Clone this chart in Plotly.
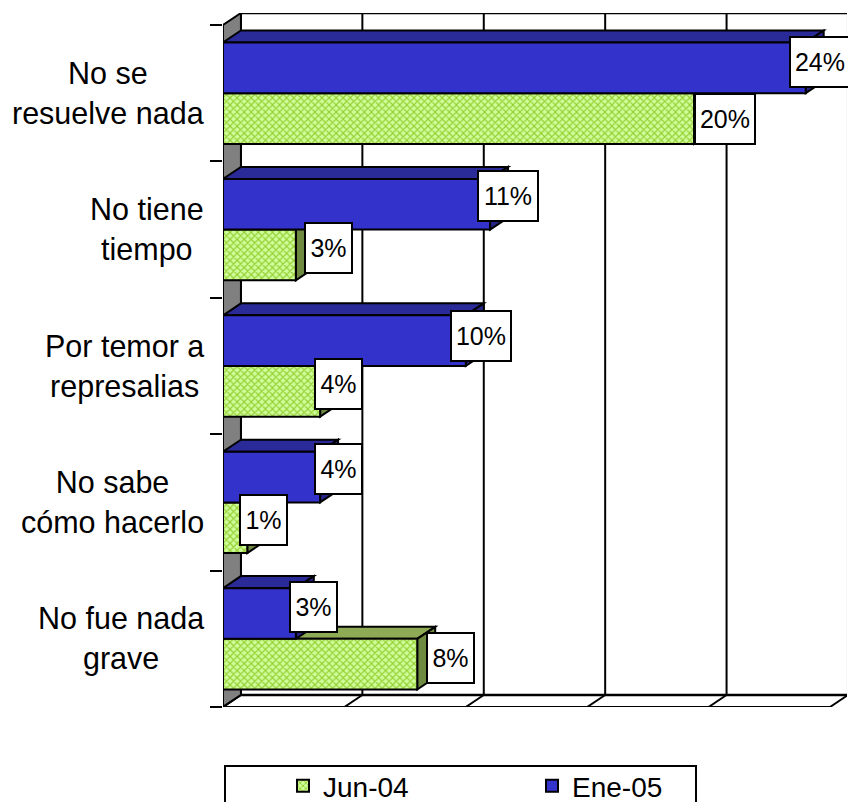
import plotly.graph_objects as go

# Data (bottom category first)
categories = ["No fue nada<br>grave", "No sabe<br>cómo hacerlo", "Por temor a<br>represalias",
              "No tiene<br>tiempo", "No se<br>resuelve nada"]
jun_04 = [8, 1, 4, 3, 19.4]
ene_05 = [3, 4, 10, 11, 24]
jun_labels = ["8%", "1%", "4%", "3%", "20%"]
ene_labels = ["3%", "4%", "10%", "11%", "24%"]
x_ticks = [0, 5, 10, 15, 20, 25]

# Styling of the pseudo-3D look
X_MAX = 25.7
DX, DY = 0.74, 0.088
BARGAP = 0.257
H = (1 - BARGAP) / 2
FONT = "Liberation Sans, Arial, sans-serif"
BLUE, BLUE_TOP, BLUE_SIDE = "#3333CC", "#2A2A99", "#26268A"
GREEN_BG, GREEN_FG, GREEN_TOP, GREEN_SIDE = "#CCFF99", "#99CC33", "#8FAA55", "#6E8A40"
W, HT = 848, 802
ML, MR, MT, MB = 223, 1, 13, 95
PW, PH = W - ML - MR, HT - MT - MB
# label nudges in px (dx, dy up), bottom category first
ene_nudge = [(18, 6), (18, 8), (15, 5), (18, 8), (14, 6)]
jun_nudge = [(33, 6), (16, 8), (18, 7), (33, 7), (31, 0)]

ys = list(range(len(categories)))
y_lo, y_hi = -0.5, len(categories) - 0.5


def poly(points, fill, lw=2, line="black"):
    path = "M" + "L".join(f"{x},{y}" for x, y in points) + "Z"
    return dict(type="path", path=path, xref="x", yref="y", layer="below",
                fillcolor=fill, line=dict(color=line, width=lw))


def seg(x0, y0, x1, y1, lw=2, color="black"):
    return dict(type="line", x0=x0, y0=y0, x1=x1, y1=y1, xref="x", yref="y",
                layer="below", line=dict(color=color, width=lw))


shapes = []
# legend frame (bottom edge runs off the page, as in the source)
shapes.append(dict(type="rect", xref="paper", yref="paper", layer="below",
                   x0=(225 - ML) / PW, x1=(696 - ML) / PW,
                   y0=(HT - MB - 806) / PH, y1=(HT - MB - 766) / PH,
                   fillcolor="white", line=dict(color="black", width=2)))
# floor, left wall, back wall
shapes.append(poly([(0, y_lo), (0, y_hi), (DX, y_hi + DY), (DX, y_lo + DY)], "#808080"))
shapes.append(seg(DX, y_hi + DY, 25 + DX, y_hi + DY, 2.5))
shapes.append(seg(DX, y_lo + DY, 25 + DX, y_lo + DY, 2.5))
shapes.append(seg(0, y_lo, 25, y_lo, 2))
for t in x_ticks:
    shapes.append(seg(t + DX, y_lo + DY, t + DX, y_hi + DY, 2))
    shapes.append(seg(t, y_lo, t + DX, y_lo + DY, 2))

# depth faces: green first, then blue
for y, v in zip(ys, jun_04):
    shapes.append(poly([(0, y), (DX, y + DY), (v + DX, y + DY), (v, y)], GREEN_TOP))
    shapes.append(poly([(v, y), (v + DX, y + DY), (v + DX, y - H + DY), (v, y - H)], GREEN_SIDE))
for y, v in zip(ys, ene_05):
    shapes.append(poly([(0, y + H), (DX, y + H + DY), (v + DX, y + H + DY), (v, y + H)], BLUE_TOP))
    shapes.append(poly([(v, y + H), (v + DX, y + H + DY), (v + DX, y + DY), (v, y)], BLUE_SIDE))

fig = go.Figure()
fig.add_bar(name="Jun-04", y=ys, x=jun_04, orientation="h",
            marker=dict(color=GREEN_BG, line=dict(color="black", width=2),
                        pattern=dict(shape="x", bgcolor=GREEN_BG, fgcolor=GREEN_FG,
                                     size=5, solidity=0.4, fillmode="replace")))
fig.add_bar(name="Ene-05", y=ys, x=ene_05, orientation="h",
            marker=dict(color=BLUE, line=dict(color="black", width=2)))

annotations = []
for y, label in zip(ys, categories):
    annotations.append(dict(x=0, y=y, xref="x", yref="y", text=label, showarrow=False,
                            xanchor="right", yanchor="middle", xshift=-17, align="center",
                            font=dict(family=FONT, size=30.5, color="black")))


def add_labels(vals, labels, nudges, offset):
    for y, v, t, (dx, dy) in zip(ys, vals, labels, nudges):
        annotations.append(dict(x=v, y=y + offset, xref="x", yref="y", text=t, showarrow=False,
                                xanchor="center", yanchor="middle", xshift=dx, yshift=dy,
                                width=58 if len(t) > 2 else 45, height=48, borderpad=0,
                                bgcolor="white", bordercolor="black", borderwidth=2,
                                font=dict(family=FONT, size=25, color="black")))


add_labels(jun_04, jun_labels, jun_nudge, -H / 2)
add_labels(ene_05, ene_labels, ene_nudge, H / 2)

fig.update_layout(
    width=W, height=HT,
    margin=dict(l=ML, r=MR, t=MT, b=MB, autoexpand=False),
    paper_bgcolor="white", plot_bgcolor="white",
    barmode="group", bargap=BARGAP, bargroupgap=0,
    hovermode=False, shapes=shapes, annotations=annotations,
    font=dict(family=FONT, size=28, color="black"),
    xaxis=dict(range=[0, X_MAX], showgrid=False, zeroline=False, showline=False,
               showticklabels=False, ticks=""),
    yaxis=dict(range=[y_lo, y_hi + DY], showgrid=False, zeroline=False, showline=False,
               showticklabels=False, ticks="outside", ticklen=12, tickwidth=2, tickcolor="black",
               tickmode="array", tickvals=[y - 0.5 for y in ys] + [y_hi]),
    legend=dict(orientation="h", xref="container", yref="container",
                x=283 / W, xanchor="left", y=1 - 761 / HT, yanchor="top",
                borderwidth=0, bgcolor="rgba(0,0,0,0)",
                entrywidth=204, entrywidthmode="pixels", itemwidth=30,
                font=dict(family=FONT, size=28, color="black")),
)
fig.write_html("out.html", config=dict(displayModeBar=False),
               post_script="document.body.style.margin='0';")
